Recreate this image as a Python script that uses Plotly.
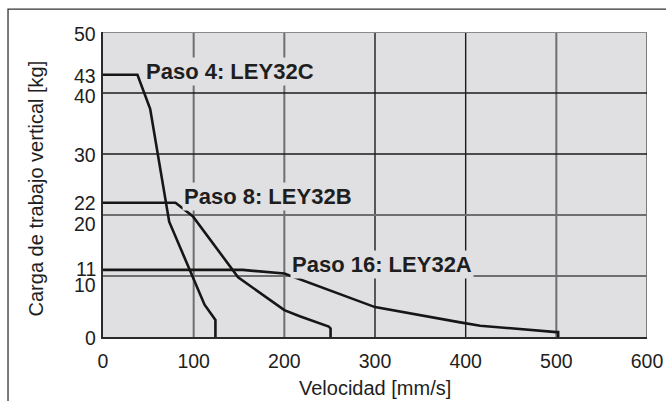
import plotly.graph_objects as go

# ---- data ----
paso4_v = [0, 38, 52, 73, 112, 124, 124]
paso4_kg = [43, 43, 37.4, 18.9, 5.3, 2.8, 0]

paso8_v = [0, 80, 99, 149, 200, 217, 249, 251, 251]
paso8_kg = [22, 22, 19.8, 9.8, 4.4, 3.4, 1.7, 1.4, 0]

paso16_v = [0, 154, 200, 250, 300, 394, 416, 500, 502, 502]
paso16_kg = [11, 11, 10.4, 7.7, 4.9, 2.4, 1.85, 0.8, 0.8, 0]

x_ticks = [0, 100, 200, 300, 400, 500, 600]
y_ticks = [0, 10, 11, 20, 22, 30, 40, 43, 50]
y_tick_labels = ["0", "10", "11", "20", "22", "30", "40", "43", "50"]

series_names = ["Paso 4: LEY32C", "Paso 8: LEY32B", "Paso 16: LEY32A"]

FONT = "Liberation Sans, Arial, Helvetica, sans-serif"
TXT = "#1e1e1e"
BG = "#e0e0e2"

fig = go.Figure()
for v, kg, name in [(paso4_v, paso4_kg, series_names[0]),
                    (paso8_v, paso8_kg, series_names[1]),
                    (paso16_v, paso16_kg, series_names[2])]:
    fig.add_trace(go.Scatter(x=v, y=kg, mode="lines", name=name,
                             line=dict(color="#161616", width=2.6),
                             showlegend=False, hoverinfo="skip"))

shapes = []
v_grid_style = {100: ("#6f6f6f", 2), 200: ("#6f6f6f", 2), 300: ("#1c1c1c", 1.4),
                400: ("#1c1c1c", 1.4), 500: ("#6f6f6f", 2), 600: ("#7a7a7a", 2)}
for xv in x_ticks[1:]:
    c, w = v_grid_style[xv]
    shapes.append(dict(type="line", xref="x", yref="y", x0=xv, x1=xv, y0=0, y1=50,
                       line=dict(color=c, width=w), layer="below"))
h_grid_style = {10: ("#6f6f6f", 2), 20: ("#6f6f6f", 2), 30: ("#1c1c1c", 1.4),
                40: ("#1c1c1c", 1.4), 50: ("#8a8a8a", 2)}
for yv in [10, 20, 30, 40, 50]:
    c, w = h_grid_style[yv]
    shapes.append(dict(type="line", xref="x", yref="y", x0=0, x1=600, y0=yv, y1=yv,
                       line=dict(color=c, width=w), layer="below"))
shapes.append(dict(type="rect", xref="paper", yref="paper",
                   x0=-0.1746, x1=1.06, y0=-0.3, y1=1.0753,
                   line=dict(color="#333333", width=1.3), fillcolor="rgba(0,0,0,0)"))

annotations = []
label_pos = [(45.5, 43.5), (87.5, 23.1), (206.5, 11.9)]
for name, (lx, ly) in zip(series_names, label_pos):
    annotations.append(dict(x=lx, y=ly, xref="x", yref="y", text="<b>%s</b>" % name,
                            showarrow=False, xanchor="left", yanchor="middle",
                            bgcolor=BG, borderpad=1,
                            font=dict(family=FONT, size=22, color=TXT)))
y_shift = {"0": -1, "10": -9, "11": 1, "20": -9, "22": 0, "30": -1, "40": -3, "43": -1, "50": -2}
for val, lab in zip(y_ticks, y_tick_labels):
    annotations.append(dict(x=0, y=val, xref="paper", yref="y", text=lab, showarrow=False,
                            xanchor="right", yanchor="middle", xshift=-5, yshift=y_shift[lab],
                            font=dict(family=FONT, size=19.5, color=TXT)))
annotations.append(dict(x=-0.1232, y=0.487, xref="paper", yref="paper",
                        text="Carga de trabajo vertical [kg]", textangle=-90,
                        showarrow=False, xanchor="center", yanchor="middle",
                        font=dict(family=FONT, size=20, color=TXT)))
annotations.append(dict(x=0.5, y=-0.167, xref="paper", yref="paper",
                        text="Velocidad [mm/s]", showarrow=False,
                        xanchor="center", yanchor="middle",
                        font=dict(family=FONT, size=20, color=TXT)))

fig.update_layout(
    width=666, height=401,
    margin=dict(l=103, r=19, t=32, b=64),
    paper_bgcolor="white", plot_bgcolor=BG,
    shapes=shapes, annotations=annotations,
    xaxis=dict(range=[0, 600], tickvals=x_ticks, showgrid=False, zeroline=False,
               showline=True, linecolor="#2a2a2a", linewidth=1.5,
               ticks="outside", ticklen=6, tickcolor="rgba(0,0,0,0)",
               tickfont=dict(family=FONT, size=19.5, color=TXT), fixedrange=True,
               automargin=False),
    yaxis=dict(range=[0, 50], tickvals=y_ticks, showticklabels=False, showgrid=False,
               zeroline=False, showline=True, linecolor="#2a2a2a", linewidth=1.5,
               fixedrange=True, automargin=False),
)

fig.write_html("out.html", config={"displayModeBar": False},
               post_script="document.body.style.margin='0';document.body.style.overflow='hidden';")
